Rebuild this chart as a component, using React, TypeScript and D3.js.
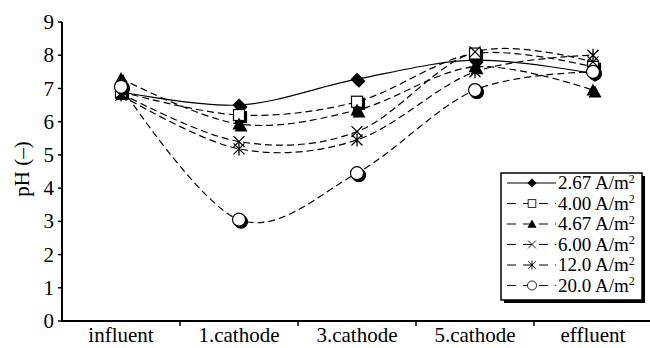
import React, { useEffect, useRef } from "react";
import * as d3 from "d3";

const categories = ["influent", "1.cathode", "3.cathode", "5.cathode", "effluent"];
const seriesNames = ["2.67", "4.00", "4.67", "6.00", "12.0", "20.0"];
const markers = ["diamond", "square", "triangle", "x", "star", "circle"];
const values = [
  [6.9, 6.5, 7.28, 7.85, 7.45],
  [6.9, 6.2, 6.6, 8.05, 7.65],
  [7.3, 5.93, 6.35, 7.65, 6.95],
  [6.85, 5.4, 5.7, 8.1, 7.8],
  [6.8, 5.18, 5.45, 7.5, 8.0],
  [7.05, 3.05, 4.45, 6.95, 7.5],
];
const yTicks = [0, 1, 2, 3, 4, 5, 6, 7, 8, 9];

const W = 650, H = 348;
const margin = { top: 22, right: 0, bottom: 27, left: 62 };
const FONT = "'Liberation Serif', 'Times New Roman', serif";

function drawMarker(g: any, type: string, cx: number, cy: number, shadow: boolean) {
  const fillDark = shadow || type === "diamond" || type === "triangle";
  const fill = fillDark ? "#000" : "#fff";
  const s = g.append("g").attr("transform", `translate(${cx},${cy})`);
  if (type === "diamond") {
    s.append("path").attr("d", "M0,-6.5L6.5,0L0,6.5L-6.5,0Z").attr("fill", "#000");
  } else if (type === "square") {
    s.append("rect").attr("x", -5.5).attr("y", -5.5).attr("width", 11).attr("height", 11)
      .attr("fill", fill).attr("stroke", "#000").attr("stroke-width", 1.2);
  } else if (type === "triangle") {
    s.append("path").attr("d", "M0,-6.5L6.5,5.5L-6.5,5.5Z").attr("fill", "#000");
  } else if (type === "circle") {
    s.append("circle").attr("r", 6.5).attr("fill", fill).attr("stroke", "#000").attr("stroke-width", 1.2);
  } else if (type === "x") {
    s.append("path").attr("d", "M-5.5,-5.5L5.5,5.5M-5.5,5.5L5.5,-5.5").attr("stroke", "#000").attr("stroke-width", 1.3);
  } else if (type === "star") {
    s.append("path").attr("d", "M-5.5,-5.5L5.5,5.5M-5.5,5.5L5.5,-5.5M0,-6.5L0,6.5").attr("stroke", "#000").attr("stroke-width", 1.3);
  }
}

export default function App() {
  const ref = useRef<SVGSVGElement>(null);

  useEffect(() => {
    const svg = d3.select(ref.current);
    svg.selectAll("*").remove();

    const x = d3.scaleBand().domain(categories).range([margin.left, 652]);
    const y = d3.scaleLinear().domain([0, 9]).range([H - margin.bottom, margin.top]);
    const cx = (c: string) => (x(c) as number) + x.bandwidth() / 2;

    // lines
    const line = d3
      .line<number>()
      .x((_, i) => cx(categories[i]))
      .y((d) => y(d))
      .curve(d3.curveCardinal.tension(0));

    values.forEach((vals, si) => {
      svg.append("path")
        .attr("d", line(vals))
        .attr("fill", "none")
        .attr("stroke", "#000")
        .attr("stroke-width", 1.2)
        .attr("stroke-dasharray", si === 0 ? null : "7,4");
    });

    // markers with shadows
    values.forEach((vals, si) => {
      vals.forEach((v, i) => {
        const px = cx(categories[i]), py = y(v);
        if (markers[si] !== "x" && markers[si] !== "star") drawMarker(svg, markers[si], px + 2, py + 2, true);
        drawMarker(svg, markers[si], px, py, false);
      });
    });

    // axes
    const axisY = H - margin.bottom;
    svg.append("line").attr("x1", margin.left).attr("x2", margin.left)
      .attr("y1", margin.top).attr("y2", axisY + 1).attr("stroke", "#000").attr("stroke-width", 2);
    svg.append("line").attr("x1", margin.left - 1).attr("x2", 652)
      .attr("y1", axisY).attr("y2", axisY).attr("stroke", "#000").attr("stroke-width", 2);

    yTicks.forEach((t) => {
      svg.append("line").attr("x1", margin.left - 4).attr("x2", margin.left)
        .attr("y1", y(t)).attr("y2", y(t)).attr("stroke", "#000").attr("stroke-width", 1.5);
      svg.append("text").attr("x", margin.left - 8).attr("y", y(t)).attr("dy", "0.34em")
        .attr("text-anchor", "end").attr("font-family", FONT).attr("font-size", 21).text(t);
    });

    categories.forEach((c, i) => {
      if (i > 0) {
        const bx = x(c) as number;
        svg.append("line").attr("x1", bx).attr("x2", bx)
          .attr("y1", axisY).attr("y2", axisY + 5).attr("stroke", "#000").attr("stroke-width", 1.5);
      }
      svg.append("text").attr("x", cx(c)).attr("y", 342)
        .attr("text-anchor", "middle").attr("font-family", FONT).attr("font-size", 21).text(c);
    });

    svg.append("text")
      .attr("transform", `translate(29,169) rotate(-90)`)
      .attr("text-anchor", "middle").attr("font-family", FONT).attr("font-size", 21)
      .text("pH (–)");

    // legend
    const lx = 501, ly = 173, lw = 141, lh = 127;
    svg.append("rect").attr("x", lx + 3).attr("y", ly + 3).attr("width", lw).attr("height", lh).attr("fill", "#000");
    svg.append("rect").attr("x", lx).attr("y", ly).attr("width", lw).attr("height", lh)
      .attr("fill", "#fff").attr("stroke", "#000").attr("stroke-width", 1.5);
    seriesNames.forEach((n, i) => {
      const ry = ly + 10 + i * 20.5;
      svg.append("line").attr("x1", lx + 6).attr("x2", lx + 55).attr("y1", ry).attr("y2", ry)
        .attr("stroke", "#000").attr("stroke-width", 1.2)
        .attr("stroke-dasharray", i === 0 ? null : "9,7");
      const g = svg.append("g");
      g.attr("transform", `translate(${lx + 31},${ry}) scale(0.7) translate(${-(lx + 31)},${-ry})`);
      drawMarker(g, markers[i], lx + 31, ry, false);
      const t = svg.append("text").attr("x", lx + 57).attr("y", ry).attr("dy", "0.34em")
        .attr("font-family", FONT).attr("font-size", 19);
      t.append("tspan").text(`${n} A/m`);
      t.append("tspan").attr("font-size", 12).attr("dy", "-0.55em").text("2");
    });
  }, []);

  return (
    <svg ref={ref} width={W} height={H} style={{ position: "absolute", left: 0, top: 0, background: "#fff" }} />
  );
}
